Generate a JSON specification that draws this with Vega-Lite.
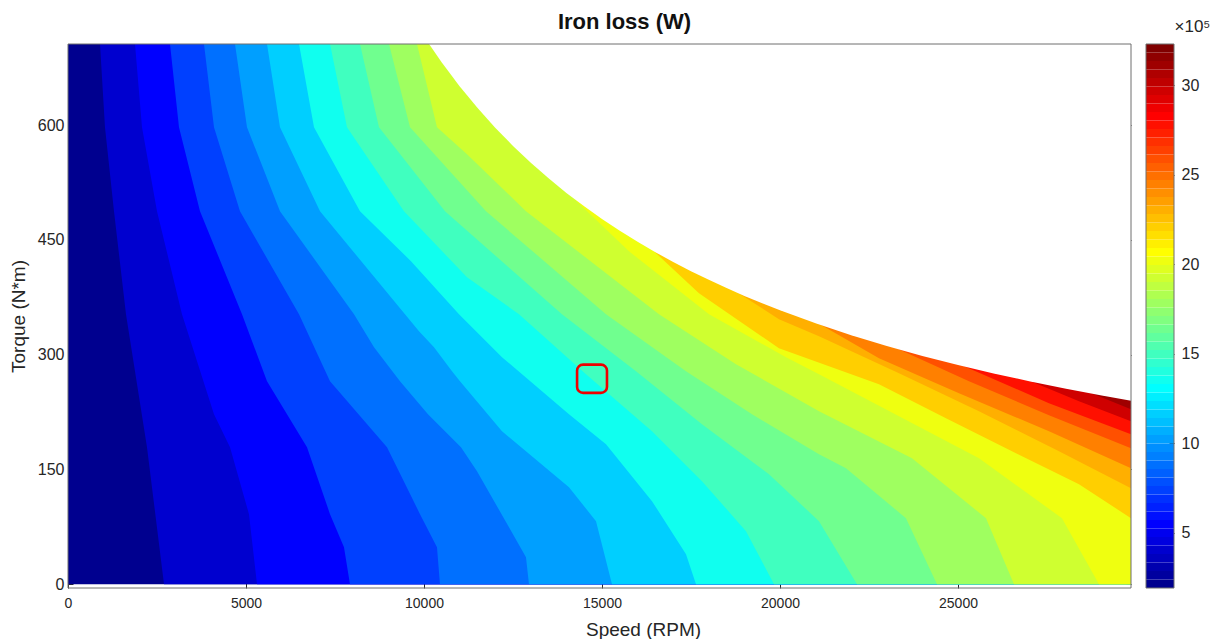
{
  "$schema": "https://vega.github.io/schema/vega-lite/v6.json",
  "background": "white",
  "autosize": {"type": "pad"},
  "padding": {"left": 9, "top": 10, "right": 0, "bottom": 0},
  "config": {
    "font": "Liberation Sans",
    "view": {"stroke": null},
    "axis": {"grid": false, "domain": false, "labelColor": "#262626", "titleColor": "#262626", "titleFontWeight": "normal", "tickColor": "#262626", "tickWidth": 1, "tickSize": 5, "offset": -5, "labelFlush": false, "labelOverlap": false, "zindex": 1},
    "title": {"font": "Liberation Sans"}
  },
  "datasets": {
    "bands": [
      {"k":"b00","v":2.14,"T":0,"s":0},{"k":"b00","v":2.14,"T":706,"s":0},
      {"k":"b01","v":4.04,"T":0,"s":2697},{"k":"b01","v":4.04,"T":179,"s":2219},{"k":"b01","v":4.04,"T":352.8,"s":1629},{"k":"b01","v":4.04,"T":487.4,"s":1292},{"k":"b01","v":4.04,"T":597.2,"s":1039},{"k":"b01","v":4.04,"T":706,"s":899},
      {"k":"b02","v":5.46,"T":0,"s":5309},{"k":"b02","v":5.46,"T":91.5,"s":5084},{"k":"b02","v":5.46,"T":179,"s":4551},{"k":"b02","v":5.46,"T":222.1,"s":4101},{"k":"b02","v":5.46,"T":352.8,"s":3202},{"k":"b02","v":5.46,"T":487.4,"s":2500},{"k":"b02","v":5.46,"T":597.2,"s":2079},{"k":"b02","v":5.46,"T":706,"s":1882},
      {"k":"b03","v":7.36,"T":0,"s":7921},{"k":"b03","v":7.36,"T":48.3,"s":7753},{"k":"b03","v":7.36,"T":91.5,"s":7360},{"k":"b03","v":7.36,"T":179,"s":6714},{"k":"b03","v":7.36,"T":265.3,"s":5590},{"k":"b03","v":7.36,"T":352.8,"s":4888},{"k":"b03","v":7.36,"T":487.4,"s":3708},{"k":"b03","v":7.36,"T":597.2,"s":3118},{"k":"b03","v":7.36,"T":706,"s":2865},
      {"k":"b04","v":8.79,"T":0,"s":10449},{"k":"b04","v":8.79,"T":48.3,"s":10365},{"k":"b04","v":8.79,"T":91.5,"s":9888},{"k":"b04","v":8.79,"T":179,"s":8961},{"k":"b04","v":8.79,"T":265.3,"s":7360},{"k":"b04","v":8.79,"T":352.8,"s":6489},{"k":"b04","v":8.79,"T":487.4,"s":4831},{"k":"b04","v":8.79,"T":597.2,"s":4101},{"k":"b04","v":8.79,"T":706,"s":3820},
      {"k":"b05","v":10.21,"T":0,"s":12949},{"k":"b05","v":10.21,"T":35.3,"s":12865},{"k":"b05","v":10.21,"T":147.7,"s":11489},{"k":"b05","v":10.21,"T":179,"s":11039},{"k":"b05","v":10.21,"T":222.1,"s":10112},{"k":"b05","v":10.21,"T":265.3,"s":9326},{"k":"b05","v":10.21,"T":309.7,"s":8596},{"k":"b05","v":10.21,"T":352.8,"s":8034},{"k":"b05","v":10.21,"T":487.4,"s":5955},{"k":"b05","v":10.21,"T":597.2,"s":5028},{"k":"b05","v":10.21,"T":706,"s":4691},
      {"k":"b06","v":11.64,"T":0,"s":15281},{"k":"b06","v":11.64,"T":82.3,"s":14832},{"k":"b06","v":11.64,"T":126.7,"s":14073},{"k":"b06","v":11.64,"T":199.9,"s":12191},{"k":"b06","v":11.64,"T":265.3,"s":11011},{"k":"b06","v":11.64,"T":278.3,"s":10787},{"k":"b06","v":11.64,"T":309.7,"s":10281},{"k":"b06","v":11.64,"T":330.6,"s":9860},{"k":"b06","v":11.64,"T":352.8,"s":9466},{"k":"b06","v":11.64,"T":487.4,"s":7079},{"k":"b06","v":11.64,"T":597.2,"s":5955},{"k":"b06","v":11.64,"T":706,"s":5590},
      {"k":"b07","v":13.54,"T":0,"s":17641},{"k":"b07","v":13.54,"T":39.2,"s":17360},{"k":"b07","v":13.54,"T":108.5,"s":16405},{"k":"b07","v":13.54,"T":182.9,"s":15113},{"k":"b07","v":13.54,"T":222.1,"s":14073},{"k":"b07","v":13.54,"T":296.6,"s":12191},{"k":"b07","v":13.54,"T":352.8,"s":10983},{"k":"b07","v":13.54,"T":422.1,"s":9635},{"k":"b07","v":13.54,"T":487.4,"s":8202},{"k":"b07","v":13.54,"T":597.2,"s":6910},{"k":"b07","v":13.54,"T":706,"s":6489},
      {"k":"b08","v":14.96,"T":0,"s":19832},{"k":"b08","v":14.96,"T":69.3,"s":19045},{"k":"b08","v":14.96,"T":134.6,"s":17809},{"k":"b08","v":14.96,"T":199.9,"s":16405},{"k":"b08","v":14.96,"T":274.4,"s":14551},{"k":"b08","v":14.96,"T":352.8,"s":12669},{"k":"b08","v":14.96,"T":401.2,"s":11208},{"k":"b08","v":14.96,"T":487.4,"s":9438},{"k":"b08","v":14.96,"T":597.2,"s":7837},{"k":"b08","v":14.96,"T":706,"s":7360},
      {"k":"b09","v":16.39,"T":0,"s":22163},{"k":"b09","v":16.39,"T":82.3,"s":21096},{"k":"b09","v":16.39,"T":143.7,"s":19691},{"k":"b09","v":16.39,"T":209.1,"s":17809},{"k":"b09","v":16.39,"T":278.3,"s":15955},{"k":"b09","v":16.39,"T":352.8,"s":13876},{"k":"b09","v":16.39,"T":487.4,"s":10590},{"k":"b09","v":16.39,"T":597.2,"s":8736},{"k":"b09","v":16.39,"T":706,"s":8202},
      {"k":"b10","v":17.81,"T":0,"s":24410},{"k":"b10","v":17.81,"T":86.2,"s":23539},{"k":"b10","v":17.81,"T":151.6,"s":21854},{"k":"b10","v":17.81,"T":169.9,"s":21096},{"k":"b10","v":17.81,"T":222.1,"s":19214},{"k":"b10","v":17.81,"T":278.3,"s":17360},{"k":"b10","v":17.81,"T":352.8,"s":15113},{"k":"b10","v":17.81,"T":487.4,"s":11742},{"k":"b10","v":17.81,"T":597.2,"s":9607},{"k":"b10","v":17.81,"T":706,"s":9017},
      {"k":"b11","v":19.24,"T":0,"s":26573},{"k":"b11","v":19.24,"T":86.2,"s":25787},{"k":"b11","v":19.24,"T":164.6,"s":23708},{"k":"b11","v":19.24,"T":226.1,"s":21096},{"k":"b11","v":19.24,"T":287.5,"s":18764},{"k":"b11","v":19.24,"T":352.8,"s":16601},{"k":"b11","v":19.24,"T":487.4,"s":12865},{"k":"b11","v":19.24,"T":561.9,"s":11208},{"k":"b11","v":19.24,"T":597.2,"s":10365},{"k":"b11","v":19.24,"T":706,"s":9803},
      {"k":"b12","v":20.19,"T":0,"s":28961},{"k":"b12","v":20.19,"T":86.2,"s":27921},{"k":"b12","v":20.19,"T":164.6,"s":25590},{"k":"b12","v":20.19,"T":274.4,"s":21096},{"k":"b12","v":20.19,"T":296.6,"s":20169},{"k":"b12","v":20.19,"T":352.8,"s":18006},{"k":"b12","v":20.19,"T":435.1,"s":15758},{"k":"b12","v":20.19,"T":510,"s":14073},{"k":"b12","v":20.19,"T":706,"s":29860},
      {"k":"b13","v":22.09,"T":0,"s":29860},{"k":"b13","v":22.09,"T":86.2,"s":29860},{"k":"b13","v":22.09,"T":130.7,"s":28399},{"k":"b13","v":22.09,"T":173.8,"s":26517},{"k":"b13","v":22.09,"T":216.9,"s":24663},{"k":"b13","v":22.09,"T":261.3,"s":22781},{"k":"b13","v":22.09,"T":308.4,"s":19972},{"k":"b13","v":22.09,"T":380.2,"s":17725},{"k":"b13","v":22.09,"T":437.5,"s":16405},{"k":"b13","v":22.09,"T":706,"s":29860},
      {"k":"b14","v":23.04,"T":0,"s":29860},{"k":"b14","v":23.04,"T":125.4,"s":29860},{"k":"b14","v":23.04,"T":173.8,"s":27837},{"k":"b14","v":23.04,"T":226.1,"s":25590},{"k":"b14","v":23.04,"T":275.7,"s":23343},{"k":"b14","v":23.04,"T":324.1,"s":21096},{"k":"b14","v":23.04,"T":346.3,"s":19972},{"k":"b14","v":23.04,"T":382.6,"s":18764},{"k":"b14","v":23.04,"T":706,"s":29860},
      {"k":"b15","v":24.46,"T":0,"s":29860},{"k":"b15","v":24.46,"T":151.6,"s":29860},{"k":"b15","v":24.46,"T":199.9,"s":27556},{"k":"b15","v":24.46,"T":249.6,"s":25028},{"k":"b15","v":24.46,"T":295.3,"s":22781},{"k":"b15","v":24.46,"T":340.4,"s":21096},{"k":"b15","v":24.46,"T":706,"s":29860},
      {"k":"b16","v":25.89,"T":0,"s":29860},{"k":"b16","v":25.89,"T":177.7,"s":29860},{"k":"b16","v":25.89,"T":220.8,"s":27556},{"k":"b16","v":25.89,"T":265.3,"s":25309},{"k":"b16","v":25.89,"T":308.8,"s":23259},{"k":"b16","v":25.89,"T":706,"s":29860},
      {"k":"b17","v":27.79,"T":0,"s":29860},{"k":"b17","v":27.79,"T":196,"s":29860},{"k":"b17","v":27.79,"T":236.5,"s":27556},{"k":"b17","v":27.79,"T":286.1,"s":25112},{"k":"b17","v":27.79,"T":706,"s":29860},
      {"k":"b18","v":29.69,"T":0,"s":29860},{"k":"b18","v":29.69,"T":213,"s":29860},{"k":"b18","v":29.69,"T":239.1,"s":28399},{"k":"b18","v":29.69,"T":266.2,"s":26994},{"k":"b18","v":29.69,"T":706,"s":29860},
      {"k":"b19","v":31.11,"T":0,"s":29860},{"k":"b19","v":31.11,"T":228.7,"s":29860},{"k":"b19","v":31.11,"T":250.7,"s":28680},{"k":"b19","v":31.11,"T":706,"s":29860}
    ],
    "edge": [
      {"T":239.8,"s":29860},{"T":246.9,"s":29000},{"T":255.7,"s":28000},{"T":265.2,"s":27000},{"T":275.4,"s":26000},{"T":286.4,"s":25000},{"T":298.3,"s":24000},{"T":311.3,"s":23000},{"T":325.5,"s":22000},{"T":341.0,"s":21000},{"T":358.0,"s":20000},{"T":367.2,"s":19500},{"T":376.8,"s":19000},{"T":387.0,"s":18500},{"T":397.8,"s":18000},{"T":409.1,"s":17500},{"T":421.2,"s":17000},{"T":433.9,"s":16500},{"T":447.5,"s":16000},{"T":461.9,"s":15500},{"T":477.3,"s":15000},{"T":493.8,"s":14500},{"T":511.4,"s":14000},{"T":530.4,"s":13500},{"T":550.8,"s":13000},{"T":572.8,"s":12500},{"T":596.7,"s":12000},{"T":622.6,"s":11500},{"T":650.9,"s":11000},{"T":681.9,"s":10500},{"T":706,"s":10142}
    ],
    "marker": [{"s0":14300,"s1":15140,"t0":250,"t1":287}],
    "frame": [{"x0":0,"x1":29860,"y0":-5,"y1":706}],
    "cbar": [
      {"lo":1.9,"hi":2.375,"v":2.1375},{"lo":2.375,"hi":2.85,"v":2.6125},{"lo":2.85,"hi":3.325,"v":3.0875},{"lo":3.325,"hi":3.8,"v":3.5625},
      {"lo":3.8,"hi":4.275,"v":4.0375},{"lo":4.275,"hi":4.75,"v":4.5125},{"lo":4.75,"hi":5.225,"v":4.9875},{"lo":5.225,"hi":5.7,"v":5.4625},
      {"lo":5.7,"hi":6.175,"v":5.9375},{"lo":6.175,"hi":6.65,"v":6.4125},{"lo":6.65,"hi":7.125,"v":6.8875},{"lo":7.125,"hi":7.6,"v":7.3625},
      {"lo":7.6,"hi":8.075,"v":7.8375},{"lo":8.075,"hi":8.55,"v":8.3125},{"lo":8.55,"hi":9.025,"v":8.7875},{"lo":9.025,"hi":9.5,"v":9.2625},
      {"lo":9.5,"hi":9.975,"v":9.7375},{"lo":9.975,"hi":10.45,"v":10.2125},{"lo":10.45,"hi":10.925,"v":10.6875},{"lo":10.925,"hi":11.4,"v":11.1625},
      {"lo":11.4,"hi":11.875,"v":11.6375},{"lo":11.875,"hi":12.35,"v":12.1125},{"lo":12.35,"hi":12.825,"v":12.5875},{"lo":12.825,"hi":13.3,"v":13.0625},
      {"lo":13.3,"hi":13.775,"v":13.5375},{"lo":13.775,"hi":14.25,"v":14.0125},{"lo":14.25,"hi":14.725,"v":14.4875},{"lo":14.725,"hi":15.2,"v":14.9625},
      {"lo":15.2,"hi":15.675,"v":15.4375},{"lo":15.675,"hi":16.15,"v":15.9125},{"lo":16.15,"hi":16.625,"v":16.3875},{"lo":16.625,"hi":17.1,"v":16.8625},
      {"lo":17.1,"hi":17.575,"v":17.3375},{"lo":17.575,"hi":18.05,"v":17.8125},{"lo":18.05,"hi":18.525,"v":18.2875},{"lo":18.525,"hi":19.0,"v":18.7625},
      {"lo":19.0,"hi":19.475,"v":19.2375},{"lo":19.475,"hi":19.95,"v":19.7125},{"lo":19.95,"hi":20.425,"v":20.1875},{"lo":20.425,"hi":20.9,"v":20.6625},
      {"lo":20.9,"hi":21.375,"v":21.1375},{"lo":21.375,"hi":21.85,"v":21.6125},{"lo":21.85,"hi":22.325,"v":22.0875},{"lo":22.325,"hi":22.8,"v":22.5625},
      {"lo":22.8,"hi":23.275,"v":23.0375},{"lo":23.275,"hi":23.75,"v":23.5125},{"lo":23.75,"hi":24.225,"v":23.9875},{"lo":24.225,"hi":24.7,"v":24.4625},
      {"lo":24.7,"hi":25.175,"v":24.9375},{"lo":25.175,"hi":25.65,"v":25.4125},{"lo":25.65,"hi":26.125,"v":25.8875},{"lo":26.125,"hi":26.6,"v":26.3625},
      {"lo":26.6,"hi":27.075,"v":26.8375},{"lo":27.075,"hi":27.55,"v":27.3125},{"lo":27.55,"hi":28.025,"v":27.7875},{"lo":28.025,"hi":28.5,"v":28.2625},
      {"lo":28.5,"hi":28.975,"v":28.7375},{"lo":28.975,"hi":29.45,"v":29.2125},{"lo":29.45,"hi":29.925,"v":29.6875},{"lo":29.925,"hi":30.4,"v":30.1625},
      {"lo":30.4,"hi":30.875,"v":30.6375},{"lo":30.875,"hi":31.35,"v":31.1125},{"lo":31.35,"hi":31.825,"v":31.5875},{"lo":31.825,"hi":32.3,"v":32.0625}
    ]
  },
  "spacing": 13,
  "hconcat": [
    {
      "width": 1063,
      "height": 544,
      "title": {"text": "Iron loss (W)", "fontSize": 22, "fontWeight": "bold", "color": "#111111", "dx": 25, "offset": 10},
      "resolve": {"axis": {"x": "independent", "y": "independent"}},
      "layer": [
        {
          "data": {"name": "bands"},
          "mark": {"type": "area", "orient": "horizontal"},
          "encoding": {
            "y": {"field": "T", "type": "quantitative", "scale": {"domain": [-5, 706], "nice": false, "zero": false},
                  "axis": {"orient": "left", "title": "Torque (N*m)", "values": [0, 150, 300, 450, 600], "labelFontSize": 16, "titleFontSize": 19, "labelPadding": 4, "titlePadding": 9}},
            "x": {"field": "s", "type": "quantitative", "scale": {"domain": [0, 29860], "nice": false, "zero": false},
                  "axis": {"orient": "bottom", "title": "Speed (RPM)", "values": [0, 5000, 10000, 15000, 20000, 25000], "format": "d", "labelFontSize": 14, "titleFontSize": 19, "labelPadding": 8, "titlePadding": 10, "titleX": 575, "titleAlign": "center"}},
            "x2": {"datum": 29860},
            "detail": {"field": "k", "type": "nominal"},
            "color": {"field": "v", "type": "quantitative", "legend": null,
                      "scale": {"type": "quantize", "domain": [1.9, 32.3], "range": ["#00008F","#00009F","#0000AF","#0000BF","#0000CF","#0000DF","#0000EF","#0000FF","#0010FF","#0020FF","#0030FF","#0040FF","#0050FF","#0060FF","#0070FF","#0080FF","#008FFF","#009FFF","#00AFFF","#00BFFF","#00CFFF","#00DFFF","#00EFFF","#00FFFF","#10FFEF","#20FFDF","#30FFCF","#40FFBF","#50FFAF","#60FF9F","#70FF8F","#80FF80","#8FFF70","#9FFF60","#AFFF50","#BFFF40","#CFFF30","#DFFF20","#EFFF10","#FFFF00","#FFEF00","#FFDF00","#FFCF00","#FFBF00","#FFAF00","#FF9F00","#FF8F00","#FF8000","#FF7000","#FF6000","#FF5000","#FF4000","#FF3000","#FF2000","#FF1000","#FF0000","#EF0000","#DF0000","#CF0000","#BF0000","#AF0000","#9F0000","#8F0000","#800000"]}}
          }
        },
        {
          "data": {"name": "edge"},
          "mark": {"type": "area", "orient": "horizontal", "color": "white"},
          "encoding": {
            "y": {"field": "T", "type": "quantitative", "axis": null},
            "x": {"field": "s", "type": "quantitative", "axis": null},
            "x2": {"datum": 29860}
          }
        },
        {
          "data": {"name": "marker"},
          "mark": {"type": "rect", "fillOpacity": 0, "stroke": "#ee0000", "strokeWidth": 2.6, "cornerRadius": 6},
          "encoding": {
            "x": {"field": "s0", "type": "quantitative", "axis": null},
            "x2": {"field": "s1"},
            "y": {"field": "t0", "type": "quantitative", "axis": null},
            "y2": {"field": "t1"}
          }
        },
        {
          "data": {"name": "frame"},
          "mark": {"type": "rect", "fillOpacity": 0, "stroke": "#6e6e6e", "strokeWidth": 1},
          "encoding": {
            "x": {"field": "x0", "type": "quantitative", "axis": {"orient": "top", "labels": false, "title": null, "values": [5000, 10000, 15000, 20000, 25000]}},
            "x2": {"field": "x1"},
            "y": {"field": "y0", "type": "quantitative", "axis": {"orient": "right", "labels": false, "title": null, "values": [0, 150, 300, 450, 600]}},
            "y2": {"field": "y1"}
          }
        }
      ]
    },
    {
      "width": 28,
      "height": 544,
      "title": {"text": "×10⁵", "anchor": "start", "dx": 29, "fontSize": 17, "fontWeight": "normal", "color": "#262626", "offset": 8},
      "layer": [
        {
          "data": {"name": "cbar"},
          "mark": {"type": "rect"},
          "encoding": {
            "y": {"field": "lo", "type": "quantitative", "scale": {"domain": [1.9, 32.3], "nice": false, "zero": false},
                  "axis": {"orient": "right", "title": null, "values": [5, 10, 15, 20, 25, 30], "labelFontSize": 16, "labelPadding": 7}},
            "y2": {"field": "hi"},
            "color": {"field": "v", "type": "quantitative", "legend": null,
                      "scale": {"type": "quantize", "domain": [1.9, 32.3], "range": ["#00008F","#00009F","#0000AF","#0000BF","#0000CF","#0000DF","#0000EF","#0000FF","#0010FF","#0020FF","#0030FF","#0040FF","#0050FF","#0060FF","#0070FF","#0080FF","#008FFF","#009FFF","#00AFFF","#00BFFF","#00CFFF","#00DFFF","#00EFFF","#00FFFF","#10FFEF","#20FFDF","#30FFCF","#40FFBF","#50FFAF","#60FF9F","#70FF8F","#80FF80","#8FFF70","#9FFF60","#AFFF50","#BFFF40","#CFFF30","#DFFF20","#EFFF10","#FFFF00","#FFEF00","#FFDF00","#FFCF00","#FFBF00","#FFAF00","#FF9F00","#FF8F00","#FF8000","#FF7000","#FF6000","#FF5000","#FF4000","#FF3000","#FF2000","#FF1000","#FF0000","#EF0000","#DF0000","#CF0000","#BF0000","#AF0000","#9F0000","#8F0000","#800000"]}}
          }
        },
        {
          "data": {"values": [{}]},
          "mark": {"type": "rect", "fillOpacity": 0, "stroke": "#6e6e6e", "strokeWidth": 1},
          "encoding": {
            "y": {"datum": 1.9, "type": "quantitative"},
            "y2": {"datum": 32.3}
          }
        }
      ]
    }
  ]
}
